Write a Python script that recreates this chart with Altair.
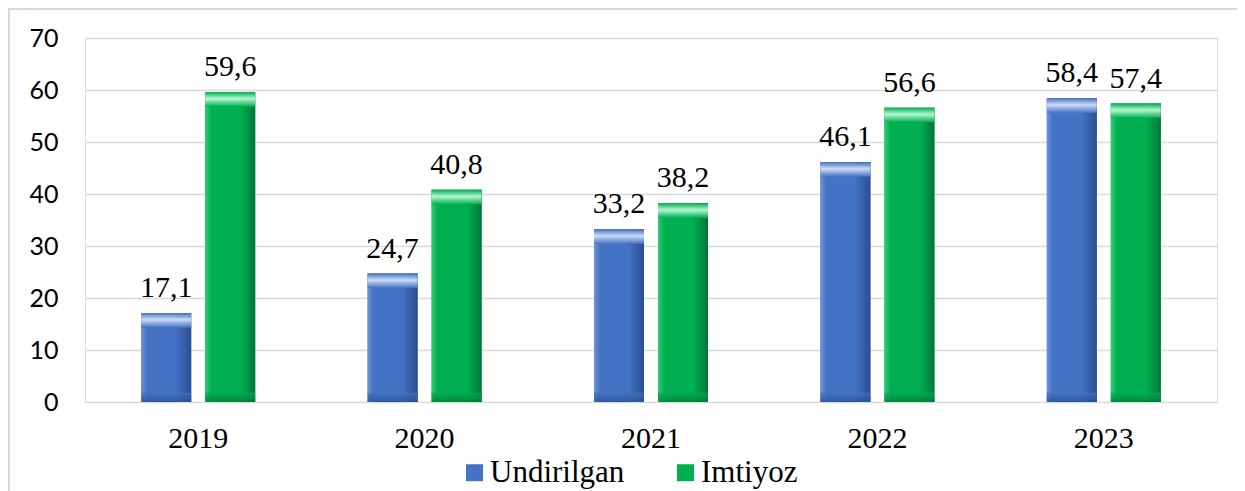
import altair as alt
import pandas as pd

years = ["2019", "2020", "2021", "2022", "2023"]
undirilgan = [17.1, 24.7, 33.2, 46.1, 58.4]
imtiyoz = [59.6, 40.8, 38.2, 56.6, 57.4]
series = ["Undirilgan", "Imtiyoz"]
colors = ["#4472C4", "#00B050"]

rows = []
for i, y in enumerate(years):
    rows.append({"year": y, "series": series[0], "value": undirilgan[i]})
    rows.append({"year": y, "series": series[1], "value": imtiyoz[i]})
df = pd.DataFrame(rows)

W, H = 1132, 364
PL, PT, PR, PB = 77, 30, 20, 89

serif = "Liberation Serif"

x_enc = alt.X("year:N", sort=years, title=None,
              scale=alt.Scale(paddingInner=0, paddingOuter=0),
              axis=alt.Axis(labelFont=serif, labelFontSize=30, labelColor="#000000",
                            labelAngle=0, ticks=False, tickSize=0, domain=False,
                            labelBaseline="alphabetic", labelPadding=45, grid=False))
xo_enc = alt.XOffset("series:N", sort=series,
                     scale=alt.Scale(domain=series, paddingInner=0.21875, paddingOuter=0.878))
y_scale = alt.Scale(domain=[0, 70], nice=False)
y_enc = alt.Y("value:Q", scale=y_scale, title=None,
              axis=alt.Axis(values=list(range(0, 71, 10)), labelFont="Lato", labelFontSize=25,
                            labelColor="#000000", ticks=False, tickSize=0, domain=False,
                            labelPadding=27, gridColor="#d9d9d9", gridWidth=1.3))

base = alt.Chart(df)

bars = base.mark_bar().encode(
    x=x_enc, xOffset=xo_enc, y=y_enc,
    color=alt.Color("series:N", sort=series,
                    scale=alt.Scale(domain=series, range=colors),
                    legend=alt.Legend(title=None, orient="none", legendX=374, legendY=419,
                                      direction="horizontal", symbolType="square",
                                      symbolSize=289, symbolStrokeWidth=0,
                                      labelFont=serif, labelFontSize=31, labelColor="#000000",
                                      labelOffset=0, columnPadding=45)),
)

def grad_h(light, mid, dark):
    return alt.Gradient(gradient="linear", x1=0, x2=1, y1=0, y2=0,
                        stops=[alt.GradientStop(color=light, offset=0),
                               alt.GradientStop(color=mid, offset=0.12),
                               alt.GradientStop(color=mid, offset=0.7),
                               alt.GradientStop(color=dark, offset=1)])

def grad_top(light, mid):
    return alt.Gradient(gradient="linear", x1=0, x2=0, y1=0, y2=1,
                        stops=[alt.GradientStop(color=mid, offset=0),
                               alt.GradientStop(color=light, offset=0.45),
                               alt.GradientStop(color=mid, offset=1)])

styles = {
    "Undirilgan": ("#6f94d8", "#4472C4", "#2a4d8f", "#dbe8ff"),
    "Imtiyoz": ("#33cc7a", "#00B050", "#00753a", "#c8ffe0"),
}

layers = [bars]
for s in series:
    light, mid, dark, hi = styles[s]
    sub = base.transform_filter(alt.datum.series == s)
    layers.append(sub.mark_bar(color=grad_h(light, mid, dark)).encode(
        x=x_enc, xOffset=xo_enc, y=y_enc))
    layers.append(sub.transform_calculate(top2="datum.value - 2.8").mark_bar(
        color=grad_top(hi, mid), opacity=0.9).encode(
        x=x_enc, xOffset=xo_enc, y=alt.Y("value:Q", scale=y_scale), y2="top2:Q"))
    layers.append(sub.transform_calculate(b0="0", b1="1.8").mark_bar(
        color=alt.Gradient(gradient="linear", x1=0, x2=0, y1=0, y2=1,
                           stops=[alt.GradientStop(color=mid, offset=0),
                                  alt.GradientStop(color=dark, offset=1)]),
        opacity=0.7).encode(
        x=x_enc, xOffset=xo_enc, y=alt.Y("b1:Q", scale=y_scale), y2="b0:Q"))

labels = base.transform_calculate(
    lbl="replace(format(datum.value, '.1f'), '.', ',')"
).mark_text(font=serif, fontSize=30, color="#000000", baseline="alphabetic", dy=-16).encode(
    x=x_enc, xOffset=xo_enc, y=y_enc, text="lbl:N")
layers.append(labels)

border = alt.Chart(pd.DataFrame({"a": [0]})).mark_rect(
    fill=None, stroke="#d9d9d9", strokeWidth=2, clip=False).encode(
    x=alt.value(-PL + 1), x2=alt.value(W + PR + 20),
    y=alt.value(-PT + 1), y2=alt.value(H + PB + 20))
layers.append(border)

chart = alt.layer(*layers).properties(
    width=W, height=H,
    autosize=alt.AutoSizeParams(type="none"),
    padding={"left": PL, "top": PT, "right": PR, "bottom": PB},
).configure_view(stroke=None).configure(background="#ffffff")

chart.save("out.html", embed_options={"renderer": "svg", "actions": False})
